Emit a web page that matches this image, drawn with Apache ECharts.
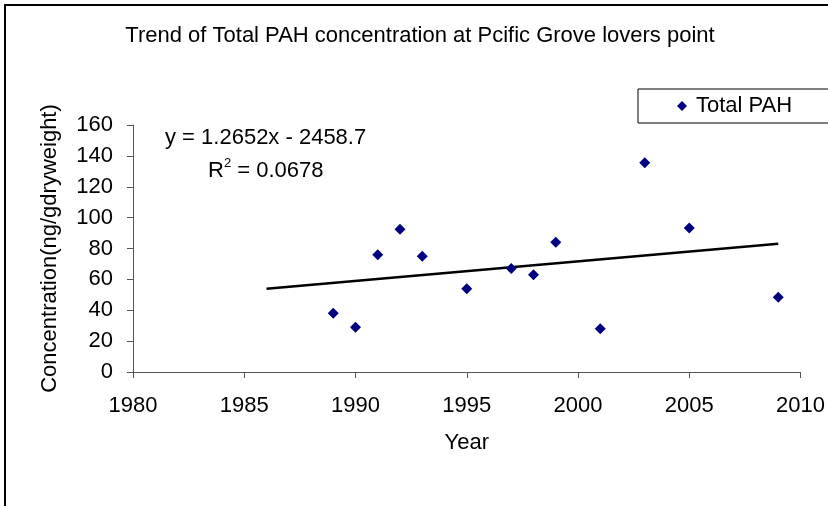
<!DOCTYPE html>
<html>
<head>
<meta charset="utf-8">
<script src="https://cdn.jsdelivr.net/npm/echarts@6/dist/echarts.min.js"></script>
<style>
  html, body { margin: 0; padding: 0; background: #fff; }
  #chart { width: 828px; height: 506px; }
</style>
</head>
<body>
<div id="chart"></div>
<script>
// sample years and total PAH values (ng/g dry weight)
var years = [1989, 1990, 1991, 1992, 1993, 1995, 1997, 1998, 1999, 2001, 2003, 2005, 2009];
var totalPah = [38, 29, 76, 92.5, 75, 54, 67, 63, 84, 28, 135.5, 93.3, 48.5];

// linear trendline as printed on the chart
var trendSlope = 1.2652;
var trendIntercept = -2458.7;
var trendYears = [1986, 2009];

var font = 'Arial, "Liberation Sans", sans-serif';

var scatterData = [];
for (var i = 0; i < years.length; i++) {
    scatterData.push([years[i], totalPah[i]]);
}
var trendData = [];
for (var j = 0; j < trendYears.length; j++) {
    trendData.push([trendYears[j], trendSlope * trendYears[j] + trendIntercept]);
}

var option = {
    backgroundColor: '#fff',
    animation: false,
    title: {
        text: 'Trend of Total PAH concentration at Pcific Grove lovers point',
        left: 420,
        top: 25,
        textAlign: 'center',
        padding: 0,
        textStyle: {
            fontFamily: font,
            fontSize: 22,
            fontWeight: 'normal',
            color: '#000'
        }
    },
    legend: {
        data: ['Total PAH'],
        left: 638,
        top: 89,
        orient: 'horizontal',
        padding: [6, 60, 6, 39],
        borderColor: '#000',
        borderWidth: 1,
        itemWidth: 10,
        itemHeight: 10,
        icon: 'diamond',
        textStyle: {
            fontFamily: font,
            fontSize: 22,
            color: '#000',
            padding: [0, 0, 0, 4]
        }
    },
    grid: {
        left: 133,
        right: 27,
        top: 125,
        bottom: 134
    },
    xAxis: {
        type: 'value',
        min: 1980,
        max: 2010,
        interval: 5,
        name: 'Year',
        nameLocation: 'middle',
        nameGap: 60,
        nameTextStyle: { fontFamily: font, fontSize: 22, color: '#000' },
        axisLine: { lineStyle: { color: '#555', width: 1 } },
        axisTick: { length: 6, lineStyle: { color: '#555' } },
        axisLabel: {
            fontFamily: font,
            fontSize: 22,
            color: '#000',
            margin: 23,
            formatter: function (v) { return String(v); }
        },
        splitLine: { show: false }
    },
    yAxis: {
        type: 'value',
        min: 0,
        max: 160,
        interval: 20,
        name: 'Concentration(ng/gdryweight)',
        nameLocation: 'middle',
        nameRotate: 90,
        nameGap: 72,
        nameTextStyle: { fontFamily: font, fontSize: 22, color: '#000' },
        axisLine: { show: true, lineStyle: { color: '#555', width: 1 } },
        axisTick: { show: true, length: 6, lineStyle: { color: '#555' } },
        axisLabel: {
            fontFamily: font,
            fontSize: 22,
            color: '#000',
            margin: 20,
            padding: [5, 0, 0, 0]
        },
        splitLine: { show: false }
    },
    graphic: [
        {
            type: 'rect',
            shape: { x: 5, y: 5, width: 900, height: 600 },
            style: { fill: 'none', stroke: '#000', lineWidth: 2 },
            silent: true
        },
        {
            type: 'text',
            left: 165,
            top: 127,
            style: {
                text: 'y = 1.2652x - 2458.7',
                font: '22px ' + font,
                fill: '#000'
            }
        },
        {
            type: 'text',
            left: 208,
            top: 157,
            style: {
                text: '{r|R}{s|2}{r| = 0.0678}',
                fill: '#000',
                rich: {
                    r: { fontFamily: font, fontSize: 22, fill: '#000', verticalAlign: 'bottom' },
                    s: { fontFamily: font, fontSize: 13, fill: '#000', verticalAlign: 'top', padding: [0, 0, 12, 0] }
                }
            }
        }
    ],
    series: [
        {
            name: 'Total PAH',
            type: 'scatter',
            symbol: 'diamond',
            symbolSize: 11,
            itemStyle: { color: '#000080', opacity: 1 },
            data: scatterData,
            z: 3
        },
        {
            name: 'trend',
            type: 'line',
            data: trendData,
            showSymbol: false,
            symbol: 'none',
            lineStyle: { color: '#000', width: 2.5 },
            z: 2
        }
    ]
};

var chart = echarts.init(document.getElementById('chart'));
chart.setOption(option);
</script>
</body>
</html>
